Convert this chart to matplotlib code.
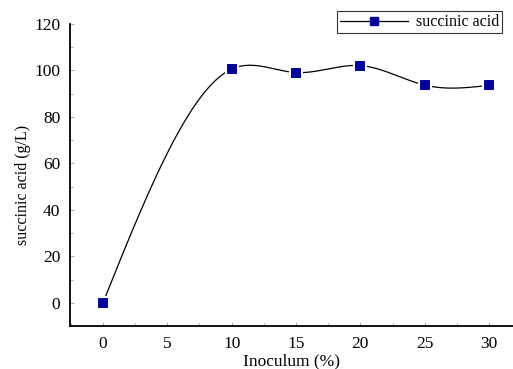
import numpy as np
import matplotlib
matplotlib.use('Agg')
import matplotlib.pyplot as plt
from matplotlib.ticker import MultipleLocator

plt.rcParams['font.family'] = ['Liberation Serif', 'DejaVu Serif']

# Data
inoculum = [0, 10, 15, 20, 25, 30]
succinic = [0, 100.6, 99.1, 102.1, 93.7, 93.6]


# Natural cubic spline through the points (smooth connecting line)
def natural_spline(x, y, num=300):
    x = np.asarray(x, float)
    y = np.asarray(y, float)
    n = len(x)
    h = np.diff(x)
    A = np.zeros((n, n))
    rhs = np.zeros(n)
    A[0, 0] = 1
    A[-1, -1] = 1
    for i in range(1, n - 1):
        A[i, i - 1] = h[i - 1]
        A[i, i] = 2 * (h[i - 1] + h[i])
        A[i, i + 1] = h[i]
        rhs[i] = 3 * ((y[i + 1] - y[i]) / h[i] - (y[i] - y[i - 1]) / h[i - 1])
    c = np.linalg.solve(A, rhs)
    xs = np.linspace(x[0], x[-1], num)
    ys = np.zeros_like(xs)
    for k, xv in enumerate(xs):
        i = min(np.searchsorted(x, xv, side='right') - 1, n - 2)
        d = xv - x[i]
        b = (y[i + 1] - y[i]) / h[i] - h[i] * (2 * c[i] + c[i + 1]) / 3
        dd = (c[i + 1] - c[i]) / (3 * h[i])
        ys[k] = y[i] + b * d + c[i] * d ** 2 + dd * d ** 3
    return xs, ys


fig = plt.figure(figsize=(5.13, 3.69), dpi=100)
ax = fig.add_axes([0.1365, 0.1165, 0.8635, 0.8185])

xs, ys = natural_spline(inoculum, succinic)
ax.plot(xs, ys, color='black', linewidth=0.9, zorder=2)
ax.plot(inoculum, succinic, linestyle='none', marker='s', markersize=8,
        markerfacecolor='#00009c', markeredgecolor='white', markeredgewidth=1.5,
        zorder=3)
# legend handle: line + marker
ax.plot([], [], color='black', linewidth=0.9, marker='s', markersize=5.5,
        markerfacecolor='#00009c', markeredgecolor='#00009c',
        label='succinic acid')

ax.set_xlim(-2.56, 31.86)
ax.set_ylim(-10, 120)
ax.xaxis.set_major_locator(MultipleLocator(5))
ax.xaxis.set_minor_locator(MultipleLocator(2.5))
ax.yaxis.set_major_locator(MultipleLocator(20))
ax.yaxis.set_minor_locator(MultipleLocator(10))
ax.tick_params(which='both', direction='in', color='#999999', width=0.6,
               labelsize=12.5)
ax.tick_params(axis='x', pad=7)
ax.tick_params(axis='y', pad=7)
ax.tick_params(which='major', length=3)
ax.tick_params(which='minor', length=2)

for s in ['top', 'right']:
    ax.spines[s].set_visible(False)
for s in ['left', 'bottom']:
    ax.spines[s].set_linewidth(1.3)

ax.set_xlabel('Inoculum (%)', fontsize=12.5, labelpad=1)
ax.set_ylabel('succinic acid (g/L)', fontsize=11.5)
ax.yaxis.set_label_coords(-0.088, 0.467)

leg = ax.legend(loc='upper right', bbox_to_anchor=(502 / 513, 1 - 11 / 369),
                bbox_transform=fig.transFigure, fontsize=11.5,
                frameon=True, fancybox=False, edgecolor='black',
                handlelength=4.2, borderpad=0.2, handletextpad=0.5,
                borderaxespad=0)
leg.get_frame().set_linewidth(0.8)

fig.savefig('out.png', dpi=100)
